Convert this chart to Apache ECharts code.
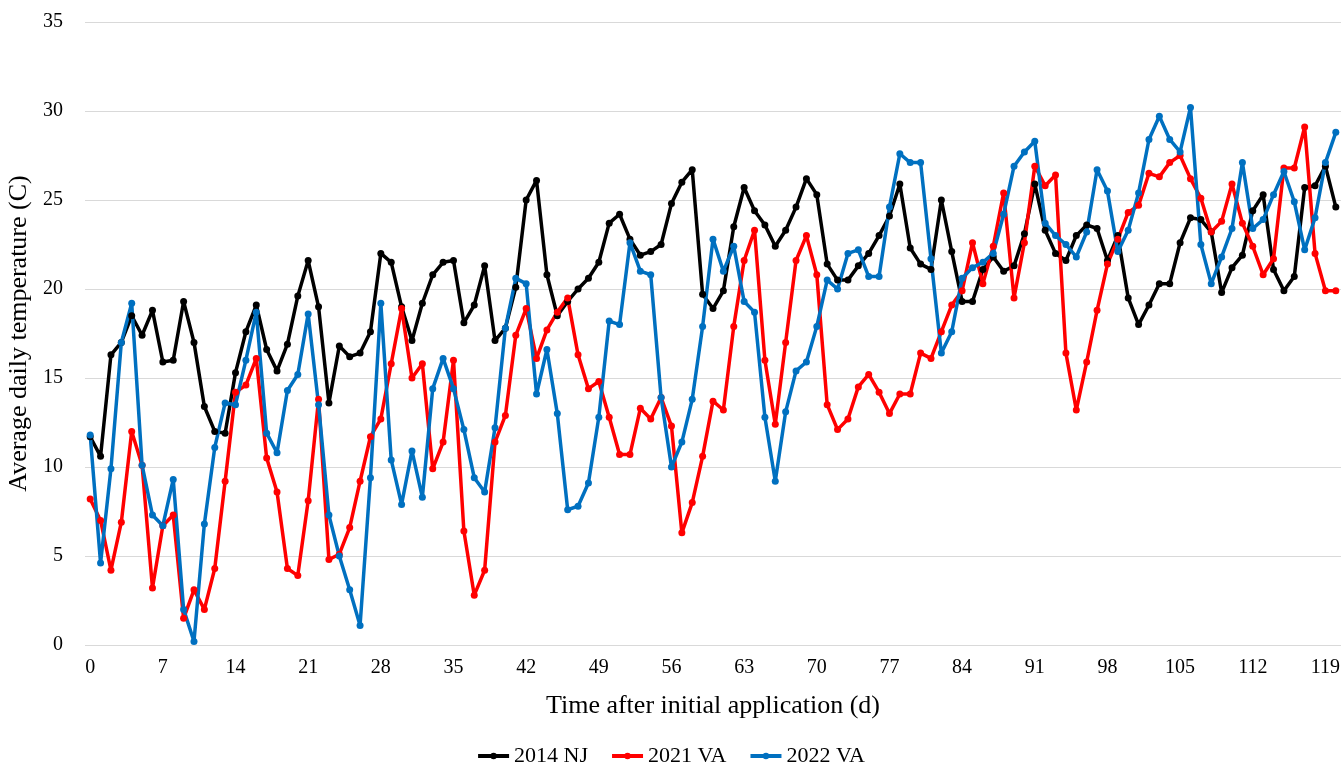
<!DOCTYPE html>
<html>
<head>
    <meta charset="UTF-8">
    <title>Average daily temperature</title>
    <style>
        html, body { margin: 0; padding: 0; background: #fff; }
        #main { width: 1341px; height: 765px; }
    </style>
</head>
<body>
    <div id="main"></div>
    <script src="https://cdn.jsdelivr.net/npm/echarts@6/dist/echarts.min.js"></script>
    <script type="text/javascript">
    // days 0..120
    var days = [];
    for (var i = 0; i <= 120; i++) { days.push(String(i)); }

    var nj2014 = [
        11.7, 10.6, 16.3, 17.0, 18.5, 17.4, 18.8, 15.9, 16.0, 19.3,
        17.0, 13.4, 12.0, 11.9, 15.3, 17.6, 19.1, 16.6, 15.4, 16.9,
        19.6, 21.6, 19.0, 13.6, 16.8, 16.2, 16.4, 17.6, 22.0, 21.5,
        19.0, 17.1, 19.2, 20.8, 21.5, 21.6, 18.1, 19.1, 21.3, 17.1,
        17.8, 20.1, 25.0, 26.1, 20.8, 18.5, 19.3, 20.0, 20.6, 21.5,
        23.7, 24.2, 22.8, 21.9, 22.1, 22.5, 24.8, 26.0, 26.7, 19.7,
        18.9, 19.9, 23.5, 25.7, 24.4, 23.6, 22.4, 23.3, 24.6, 26.2,
        25.3, 21.4, 20.5, 20.5, 21.3, 22.0, 23.0, 24.1, 25.9, 22.3,
        21.4, 21.1, 25.0, 22.1, 19.3, 19.3, 21.1, 21.8, 21.0, 21.3,
        23.1, 25.9, 23.3, 22.0, 21.6, 23.0, 23.6, 23.4, 21.6, 23.0,
        19.5, 18.0, 19.1, 20.3, 20.3, 22.6, 24.0, 23.9, 23.2, 19.8,
        21.2, 21.9, 24.4, 25.3, 21.1, 19.9, 20.7, 25.7, 25.8, 26.9,
        24.6
    ];

    var va2021 = [
        8.2, 7.0, 4.2, 6.9, 12.0, 10.1, 3.2, 6.7, 7.3, 1.5,
        3.1, 2.0, 4.3, 9.2, 14.2, 14.6, 16.1, 10.5, 8.6, 4.3,
        3.9, 8.1, 13.8, 4.8, 5.1, 6.6, 9.2, 11.7, 12.7, 15.8,
        18.9, 15.0, 15.8, 9.9, 11.4, 16.0, 6.4, 2.8, 4.2, 11.4,
        12.9, 17.4, 18.9, 16.1, 17.7, 18.7, 19.5, 16.3, 14.4, 14.8,
        12.8, 10.7, 10.7, 13.3, 12.7, 13.9, 12.3, 6.3, 8.0, 10.6,
        13.7, 13.2, 17.9, 21.6, 23.3, 16.0, 12.4, 17.0, 21.6, 23.0,
        20.8, 13.5, 12.1, 12.7, 14.5, 15.2, 14.2, 13.0, 14.1, 14.1,
        16.4, 16.1, 17.6, 19.1, 19.9, 22.6, 20.3, 22.4, 25.4, 19.5,
        22.6, 26.9, 25.8, 26.4, 16.4, 13.2, 15.9, 18.8, 21.4, 22.8,
        24.3, 24.7, 26.5, 26.3, 27.1, 27.5, 26.2, 25.1, 23.2, 23.8,
        25.9, 23.7, 22.4, 20.8, 21.7, 26.8, 26.8, 29.1, 22.0, 19.9,
        19.9
    ];

    var va2022 = [
        11.8, 4.6, 9.9, 17.0, 19.2, 10.1, 7.3, 6.7, 9.3, 2.0,
        0.2, 6.8, 11.1, 13.6, 13.5, 16.0, 18.7, 11.9, 10.8, 14.3,
        15.2, 18.6, 13.5, 7.3, 5.0, 3.1, 1.1, 9.4, 19.2, 10.4,
        7.9, 10.9, 8.3, 14.4, 16.1, 14.4, 12.1, 9.4, 8.6, 12.2,
        17.8, 20.6, 20.3, 14.1, 16.6, 13.0, 7.6, 7.8, 9.1, 12.8,
        18.2, 18.0, 22.6, 21.0, 20.8, 13.9, 10.0, 11.4, 13.8, 17.9,
        22.8, 21.0, 22.4, 19.3, 18.7, 12.8, 9.2, 13.1, 15.4, 15.9,
        17.9, 20.5, 20.0, 22.0, 22.2, 20.7, 20.7, 24.6, 27.6, 27.1,
        27.1, 21.7, 16.4, 17.6, 20.6, 21.2, 21.5, 22.0, 24.2, 26.9,
        27.7, 28.3, 23.7, 23.0, 22.5, 21.8, 23.2, 26.7, 25.5, 22.1,
        23.3, 25.4, 28.4, 29.7, 28.4, 27.7, 30.2, 22.5, 20.3, 21.8,
        23.4, 27.1, 23.4, 23.9, 25.3, 26.6, 24.9, 22.2, 24.0, 27.1,
        28.8
    ];

    var seriesNames = ['2014 NJ', '2021 VA', '2022 VA'];
    var seriesColors = ['#000000', '#FF0000', '#0070C0'];
    var seriesData = [nj2014, va2021, va2022];

    var font = '"Liberation Serif", "Times New Roman", serif';

    var myChart = echarts.init(document.getElementById('main'));

    var series = [];
    for (var s = 0; s < seriesData.length; s++) {
        series.push({
            name: seriesNames[s],
            type: 'line',
            data: seriesData[s],
            symbol: 'circle',
            symbolSize: 7,
            showAllSymbol: true,
            itemStyle: { color: seriesColors[s] },
            lineStyle: { color: seriesColors[s], width: 3.5 }
        });
    }

    myChart.setOption({
        animation: false,
        textStyle: { fontFamily: font },
        grid: { left: 85, right: 0, top: 22, bottom: 120, outerBoundsMode: 'none' },
        legend: {
            data: seriesNames,
            left: 'center',
            top: 745,
            padding: 0,
            itemWidth: 31,
            itemHeight: 8,
            itemGap: 22,
            lineStyle: { width: 4 },
            textStyle: { fontFamily: font, fontSize: 22, color: '#000' }
        },
        xAxis: {
            type: 'category',
            data: days,
            boundaryGap: true,
            name: 'Time after initial application (d)',
            nameLocation: 'middle',
            nameGap: 48,
            nameTextStyle: { fontFamily: font, fontSize: 26, color: '#000' },
            axisLine: { show: false },
            axisTick: { show: false },
            axisLabel: { interval: 6, fontFamily: font, fontSize: 20, color: '#000', margin: 13 }
        },
        yAxis: {
            type: 'value',
            min: 0,
            max: 35,
            interval: 5,
            name: 'Average daily temperature (C)',
            nameLocation: 'middle',
            nameGap: 45,
            nameTextStyle: { fontFamily: font, fontSize: 26, color: '#000' },
            axisLine: { show: false },
            axisTick: { show: false },
            axisLabel: { fontFamily: font, fontSize: 20, color: '#000', margin: 22 },
            splitLine: { lineStyle: { color: '#D9D9D9', width: 1 } }
        },
        series: series
    });
    </script>
</body>
</html>
